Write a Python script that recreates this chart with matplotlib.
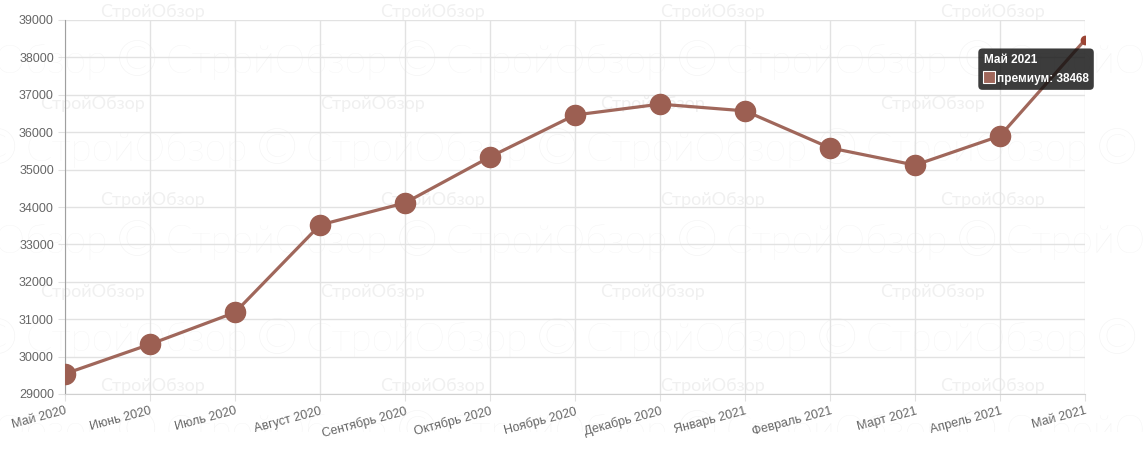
import matplotlib.pyplot as plt
from matplotlib.transforms import offset_copy

plt.rcParams['font.family'] = ['Liberation Sans', 'DejaVu Sans']

months = ["Май 2020", "Июнь 2020", "Июль 2020", "Август 2020", "Сентябрь 2020",
          "Октябрь 2020", "Ноябрь 2020", "Декабрь 2020", "Январь 2021",
          "Февраль 2021", "Март 2021", "Апрель 2021", "Май 2021"]
premium = [29540, 30330, 31180, 33520, 34110, 35340, 36460, 36750, 36570,
           35580, 35120, 35900, 38468]
y_ticks = list(range(29000, 39001, 1000))

W, H = 1147, 475
BG_H = 432  # watermark layer stops here
fig = plt.figure(figsize=(W / 100, H / 100), dpi=100)

# faint watermark pattern in a background axes (pixel coordinates)
bg = fig.add_axes([0, 1 - BG_H / H, 1, BG_H / H], zorder=-1)
bg.set_xlim(0, W)
bg.set_ylim(BG_H, 0)
bg.axis('off')
wm = '#f3f3f3'
for row, y in enumerate([62, 150, 242, 340, 432]):
    off = 165 if row % 2 == 0 else 25
    for k in range(-1, 5):
        x0 = off + k * 280
        bg.text(x0, y, "СтройОбзор", fontsize=28, color=wm, ha='left',
                va='center', family='Lato', fontweight='light', clip_on=True)
        bg.text(x0 + 252, y, "©", fontsize=36, color=wm, ha='center',
                va='center', family='Lato', fontweight='light', clip_on=True)
for row, y in enumerate([12, 104, 200, 292, 386]):
    off = 100 if row % 2 == 0 else 40
    for k in range(-1, 5):
        bg.text(off + k * 280, y, "СтройОбзор", fontsize=13, color='#f0f0f0',
                ha='left', va='center', family='Lato', clip_on=True)

ax = fig.add_axes([65 / W, 1 - 394 / H, 1020 / W, 374 / H], zorder=1)
ax.patch.set_alpha(0)
x = list(range(len(months)))
ax.plot(x, premium, color='#a0675b', lw=2.3, zorder=3)
ax.plot(x[:-1], premium[:-1], 'o', color='#9c5f52', ms=14.5, zorder=4)
ax.plot(x[-1:], premium[-1:], 'o', color='#9c4535', ms=6, zorder=4)

ax.set_xlim(0, len(months) - 1)
ax.set_ylim(29000, 39000)
ax.set_yticks(y_ticks)
ax.set_yticklabels([str(v) for v in y_ticks])
ax.set_xticks(x)
ax.set_xticklabels(months, rotation=15, ha='right', rotation_mode='anchor')
ax.grid(True, color='#e2e2e2', lw=1)
ax.set_axisbelow(True)
ax.tick_params(axis='both', length=5, color='#e2e2e2', labelsize=9,
               labelcolor='#666666', pad=3)
for s in ['top', 'right']:
    ax.spines[s].set_visible(False)
ax.spines['left'].set_color('#a0a0a0')
ax.spines['bottom'].set_color('#d0d0d0')

# tooltip for the last point
tip_x, tip_y = x[-1], premium[-1]
ax.annotate(months[-1] + "\n    премиум: " + str(premium[-1]),
            xy=(tip_x, tip_y), xytext=(-73, -10), textcoords='offset points',
            color='white', fontsize=8.5, fontweight='bold', ha='left', va='top',
            linespacing=1.75, zorder=6, annotation_clip=False,
            bbox=dict(boxstyle='round,pad=0.45,rounding_size=0.35',
                      fc='#111111', ec='none', alpha=0.82))
sq = offset_copy(ax.transData, fig=fig, x=-69, y=-26.5, units='points')
ax.plot(tip_x, tip_y, 's', ms=8.5, mfc='#a0675b', mec='white', mew=0.8,
        transform=sq, zorder=7, clip_on=False)

fig.savefig('out.png', dpi=100)
